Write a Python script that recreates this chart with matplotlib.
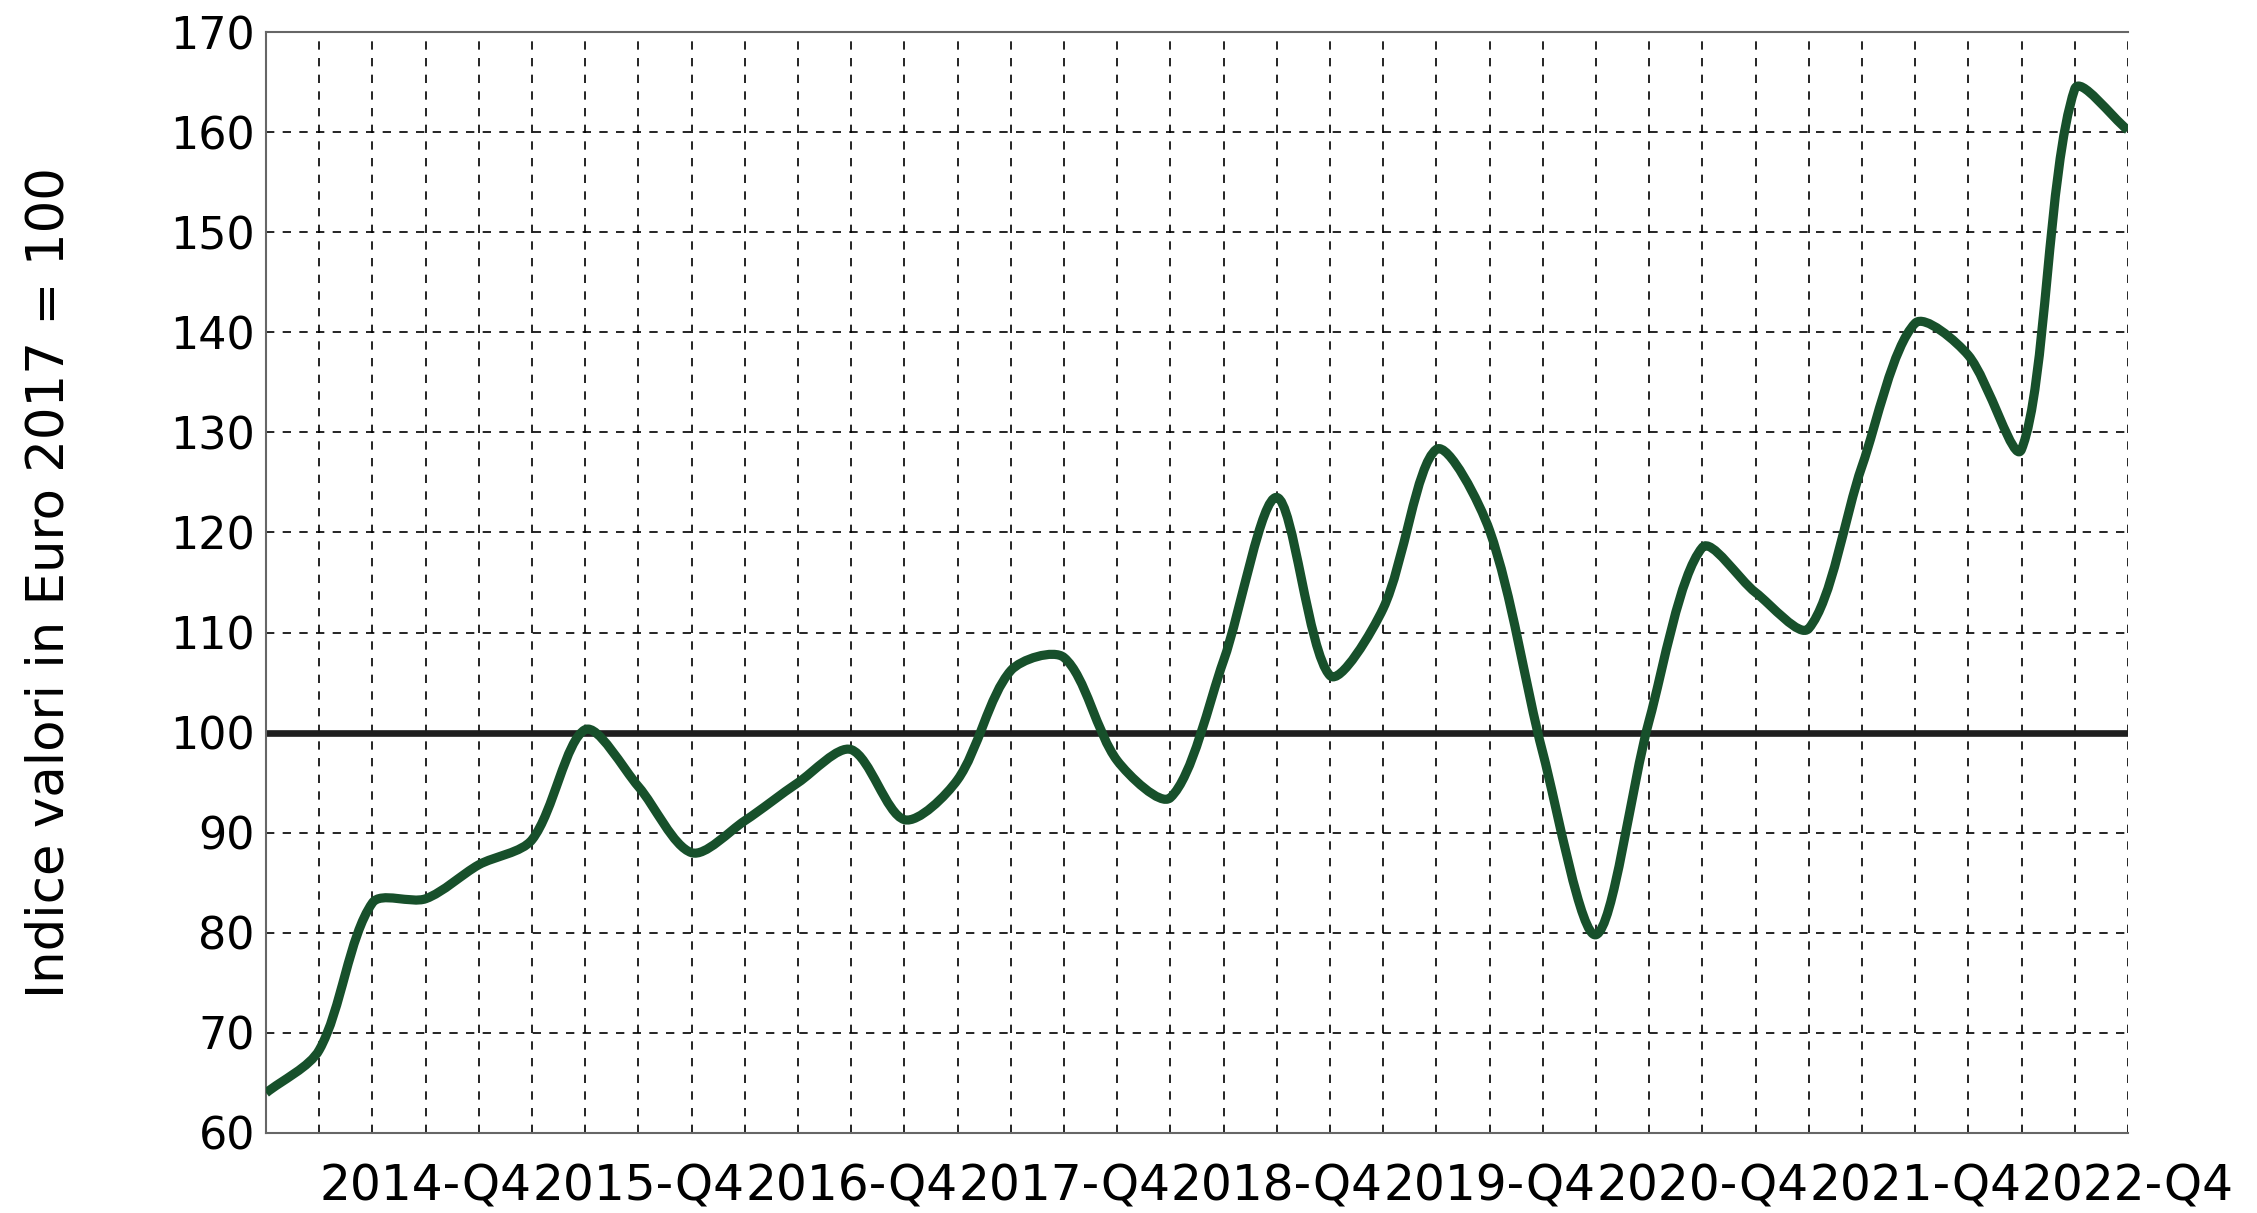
import numpy as np
import matplotlib
matplotlib.use("Agg")
import matplotlib.pyplot as plt
from matplotlib.path import Path
from matplotlib.patches import PathPatch

# quarterly index, Euro 2017 = 100
years = [2014, 2015, 2016, 2017, 2018, 2019, 2020, 2021, 2022]
quarters = [f"{y}-Q{q}" for y in years for q in range(1, 5)]
index_values = [
    64.0, 68.3, 83.0, 83.4, 86.8, 89.3, 100.3, 94.6, 88.0,
    91.2, 95.0, 98.3, 91.3, 95.3, 106.2, 107.5, 97.2, 93.5,
    107.2, 123.5, 105.7, 112.4, 128.3, 120.2, 98.0, 79.8, 101.2,
    118.5, 114.0, 110.4, 126.6, 140.9, 137.7, 128.3, 164.3, 160.2,
]
base_value = 100
label_quarters = [q for q in quarters if q.endswith("Q4")]

LINE_GREEN = "#17502b"
TENSION = 0.3


def tension_path(ax, x, y, t=TENSION):
    """Tension spline (control points worked out in screen space) as a bezier Path."""
    pts = ax.transData.transform(np.column_stack([x, y]))
    n = len(pts)
    ctrl_prev = np.zeros_like(pts)
    ctrl_next = np.zeros_like(pts)
    for i in range(n):
        prev = pts[max(i - 1, 0)]
        cur = pts[i]
        nxt = pts[min(i + 1, n - 1)]
        d01 = np.hypot(*(cur - prev))
        d12 = np.hypot(*(nxt - cur))
        tot = d01 + d12
        s01 = d01 / tot if tot else 0.0
        s12 = d12 / tot if tot else 0.0
        ctrl_prev[i] = cur - t * s01 * (nxt - prev)
        ctrl_next[i] = cur + t * s12 * (nxt - prev)
    inv = ax.transData.inverted()
    verts = [pts[0]]
    codes = [Path.MOVETO]
    for i in range(n - 1):
        verts += [ctrl_next[i], ctrl_prev[i + 1], pts[i + 1]]
        codes += [Path.CURVE4] * 3
    return Path(inv.transform(np.array(verts)), codes)


plt.rcParams["font.family"] = ["DejaVu Sans"]

fig = plt.figure(figsize=(22.57, 12.13), dpi=100)
ax = fig.add_axes([0.1179, 0.066, 0.8249, 0.9076])

xs = np.arange(len(quarters))
ax.set_xlim(0, len(quarters) - 1)
ax.set_ylim(60, 170)

# grid
ax.set_xticks(xs, minor=True)
ax.set_xticks([quarters.index(q) for q in label_quarters])
ax.set_xticklabels(label_quarters)
ax.set_yticks(np.arange(60, 171, 10))
ax.grid(True, which="both", axis="x", color="black", linestyle=(0, (5, 5)), linewidth=1.2)
ax.grid(True, which="major", axis="y", color="black", linestyle=(0, (5, 5)), linewidth=1.2)
ax.set_axisbelow(True)

ax.axhline(base_value, color="#1f1f1f", linewidth=4.8, zorder=2)

curve = tension_path(ax, xs, index_values)
ax.add_patch(PathPatch(curve, fill=False, edgecolor=LINE_GREEN, linewidth=6.6,
                       capstyle="butt", joinstyle="round", zorder=3))

for side in ["left", "top", "bottom"]:
    ax.spines[side].set_color("#666666")
    ax.spines[side].set_linewidth(1.5)
ax.spines["right"].set_visible(False)

ax.tick_params(axis="both", which="both", length=0)
ax.tick_params(axis="y", labelsize=32, pad=8)
ax.tick_params(axis="x", labelsize=35, pad=21)

ax.set_ylabel("Indice valori in Euro 2017 = 100", fontsize=37)
ax.yaxis.set_label_coords(-0.103, 0.5)

fig.savefig("out.png", dpi=100)
